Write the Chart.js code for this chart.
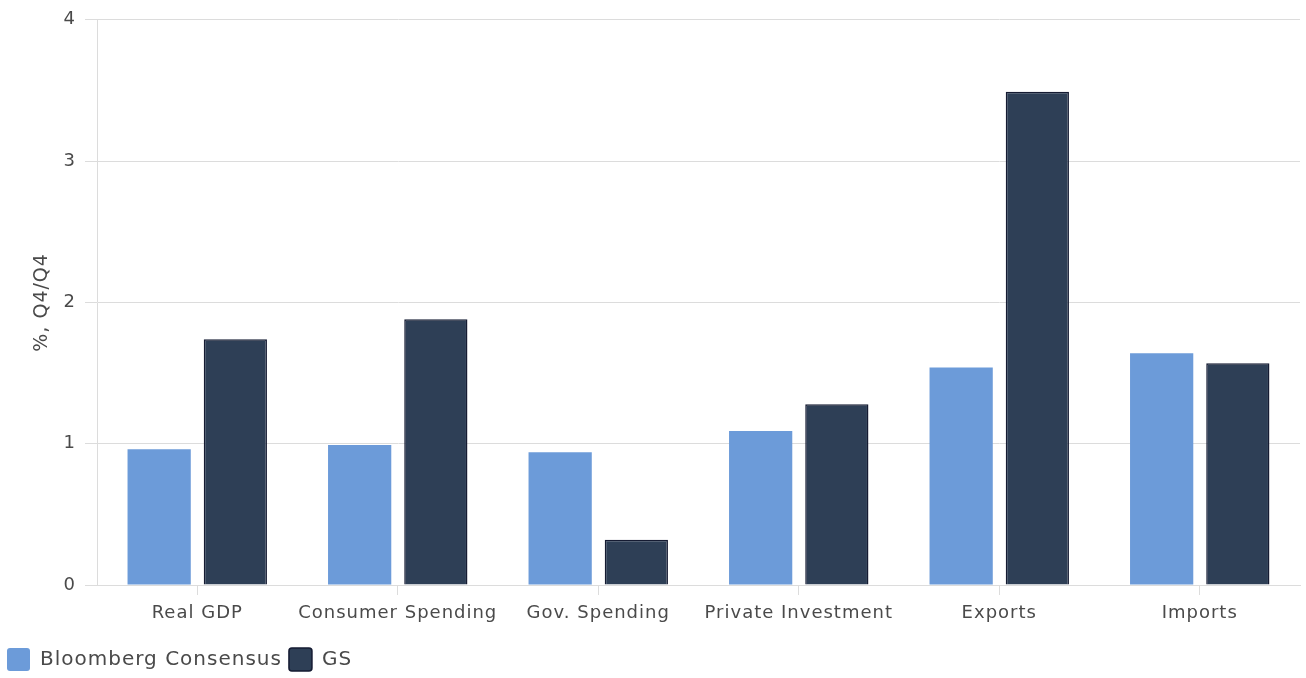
<!DOCTYPE html>
<html>
<head>
<meta charset="utf-8">
<script src="https://cdn.jsdelivr.net/npm/chart.js@4"></script>
<style>
  html, body { margin: 0; padding: 0; background: #fff; }
  #wrap { width: 1306px; height: 678px; }
</style>
</head>
<body>
<div id="wrap"><canvas id="gdpChart"></canvas></div>
<script>
const categories = ["Real GDP", "Consumer Spending", "Gov. Spending", "Private Investment", "Exports", "Imports"];
const bloomberg = [0.96, 0.99, 0.94, 1.09, 1.54, 1.64];
const gs = [1.74, 1.88, 0.32, 1.28, 3.49, 1.57];
const yTicks = [0, 1, 2, 3, 4];

const fontFamily = "'DejaVu Sans', sans-serif";
const textColor = "#4a4a4a";
const gridColor = "#dcdcdc";

// wider tracking on all canvas text
const letterSpacing = {
  id: "letterSpacing",
  beforeLayout(chart) { chart.ctx.letterSpacing = "1px"; },
  beforeDraw(chart) { chart.ctx.letterSpacing = "1px"; },
};

new Chart(document.getElementById("gdpChart"), {
  type: "bar",
  data: {
    labels: categories,
    datasets: [
      {
        label: "Bloomberg Consensus",
        data: bloomberg,
        backgroundColor: "#6c9bd9",
        borderColor: "#6c9bd9",
        borderWidth: 0,
      },
      {
        label: "GS",
        data: gs,
        backgroundColor: "#2e3f56",
        borderColor: "#151b32",
        borderWidth: 1.5,
      },
    ],
  },
  plugins: [letterSpacing],
  options: {
    responsive: true,
    maintainAspectRatio: false,
    animation: false,
    categoryPercentage: 0.76,
    barPercentage: 0.83,
    layout: { padding: { top: 17, right: 6, left: 0, bottom: -3 } },
    plugins: {
      tooltip: { enabled: false },
      legend: {
        position: "bottom",
        align: "start",
        labels: {
          color: textColor,
          font: { family: fontFamily, size: 20 },
          boxWidth: 23,
          boxHeight: 23,
          useBorderRadius: true,
          borderRadius: 3,
          padding: 7,
        },
      },
    },
    scales: {
      x: {
        afterFit: (axis) => { axis.height = 56; },
        grid: {
          display: true,
          drawOnChartArea: false,
          offset: false,
          color: gridColor,
          tickLength: 10,
        },
        border: { color: gridColor },
        ticks: {
          color: textColor,
          font: { family: fontFamily, size: 18 },
          padding: 8,
          maxRotation: 0,
          minRotation: 0,
          autoSkip: false,
        },
      },
      y: {
        min: 0,
        max: 4,
        afterBuildTicks: (axis) => { axis.ticks = yTicks.map((v) => ({ value: v })); },
        afterFit: (axis) => { axis.width = 97; },
        grid: { color: gridColor, tickLength: 12 },
        border: { color: gridColor },
        ticks: { color: textColor, font: { family: fontFamily, size: 18 }, padding: 9 },
        title: {
          display: true,
          text: "%, Q4/Q4",
          color: textColor,
          font: { family: fontFamily, size: 19 },
          padding: { top: 31 },
        },
      },
    },
  },
});
</script>
</body>
</html>
